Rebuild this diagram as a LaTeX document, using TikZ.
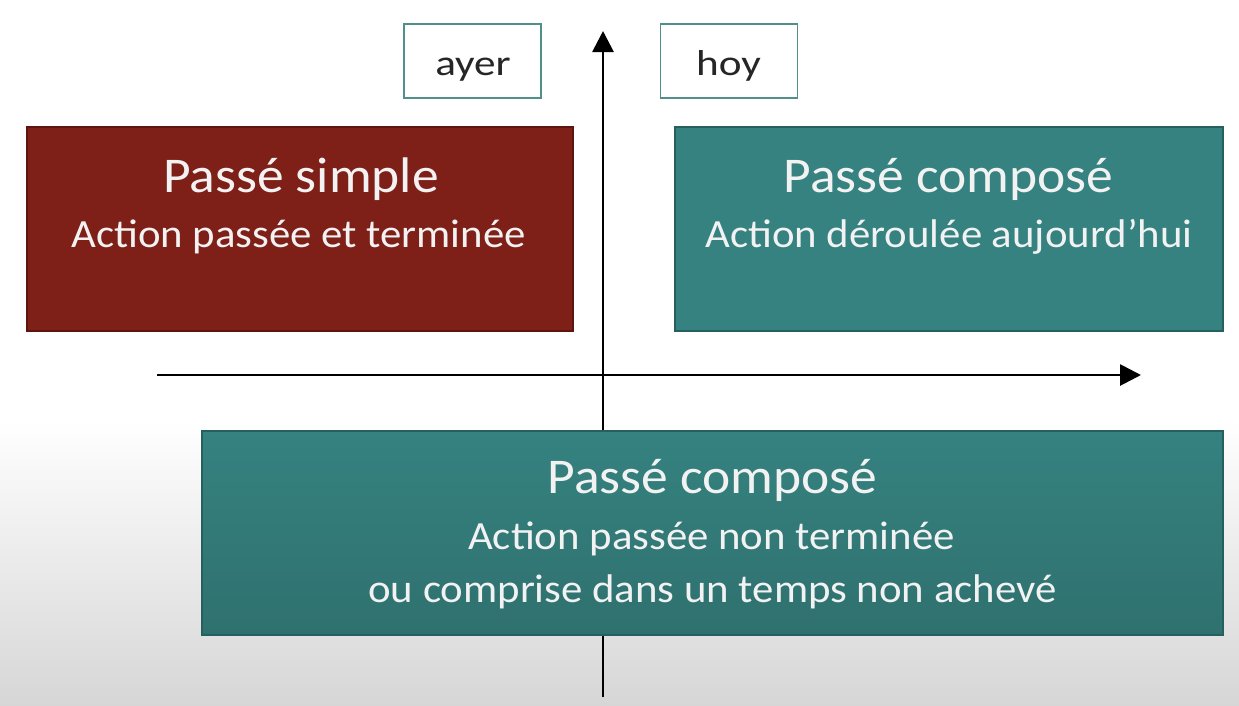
\documentclass[tikz,border=0pt]{standalone}
\usepackage{fontspec}
\setmainfont{Carlito}
\newfontfamily\boxfont[FakeStretch=1.07]{Carlito}
\newfontfamily\dayfont[FakeStretch=1.2]{Carlito}
\usetikzlibrary{arrows.meta}
\definecolor{redbox}{HTML}{7E1F18}
\definecolor{rededge}{HTML}{5E1510}
\definecolor{tealbox}{HTML}{358280}
\definecolor{tealbot}{HTML}{2F716F}
\definecolor{tealedge}{HTML}{25605E}
\definecolor{labeledge}{HTML}{4F8F8C}
\definecolor{txtdark}{HTML}{262626}
\definecolor{txtlight}{HTML}{F2F2F2}
\tikzset{
  axisline/.style={line width=2.8pt, black, -{Triangle[length=21pt,width=21pt]}},
  daybox/.style={draw=labeledge, line width=1.2pt, fill=white, inner sep=0pt, minimum width=137pt, minimum height=74pt},
  daytext/.style={anchor=base, inner sep=0pt, text=txtdark, font=\dayfont\fontsize{36}{42}\selectfont},
  title/.style={anchor=base, text=txtlight, font=\boxfont\fontsize{50}{58}\selectfont, inner sep=0pt},
  sub/.style={anchor=base, text=txtlight, font=\boxfont\fontsize{40}{48}\selectfont, inner sep=0pt},
}
\begin{document}
\begin{tikzpicture}[x=1pt,y=-1pt]
\useasboundingbox (0,0) rectangle (1239,705);
% background
\fill[white] (0,0) rectangle (1239,705);
\shade[top color=white, bottom color=black!16] (0,420) rectangle (1239,705);
% vertical axis
\coordinate (vbot) at (603,697);
\coordinate (vtop) at (603,31);
\draw[axisline] (vbot) -- (vtop);
% horizontal axis
\coordinate (hleft) at (157,375);
\coordinate (hright) at (1141,375);
\draw[axisline] (hleft) -- (hright);
% day labels
\node[daybox] (ayerbox) at (472.5,61) {};
\node[daytext] (ayer) at (473,75) {ayer};
\node[daybox] (hoybox) at (729,61) {};
\node[daytext] (hoy) at (728.5,75) {hoy};
% boxes
\path[fill=redbox, draw=rededge, line width=1.2pt] (27,127) rectangle (573,331);
\node[title] (ps) at (301,192) {Passé simple};
\node[sub] (pss) at (298.5,247) {Action passée et terminée};
\path[fill=tealbox, draw=tealedge, line width=1.2pt] (675,127) rectangle (1223,331);
\node[title] (pc1) at (948.5,192) {Passé composé};
\node[sub] (pc1s) at (949,247) {Action déroulée aujourd’hui};
\path[top color=tealbox, bottom color=tealbot, draw=tealedge, line width=1.2pt] (202,431) rectangle (1223,635);
\node[title] (pc2) at (712.5,493) {Passé composé};
\node[sub] (pc2a) at (711.5,549) {Action passée non terminée};
\node[sub] (pc2b) at (712.5,602) {ou comprise dans un temps non achevé};
\end{tikzpicture}
\end{document}
